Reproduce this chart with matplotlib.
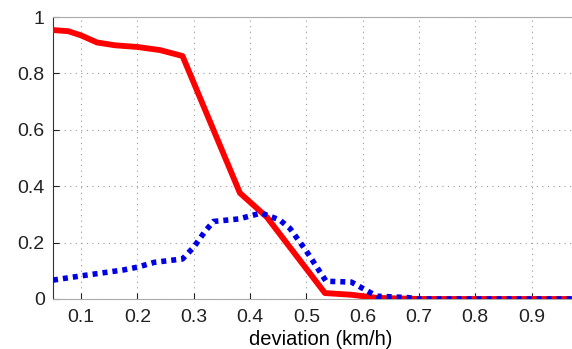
import matplotlib
matplotlib.use("Agg")
import matplotlib.pyplot as plt

red_x = [0.05, 0.077, 0.10, 0.128, 0.16, 0.20, 0.24, 0.28, 0.382, 0.43, 0.533, 0.58, 0.625, 0.70, 1.0]
red_y = [0.954, 0.950, 0.935, 0.910, 0.900, 0.894, 0.883, 0.862, 0.376, 0.29, 0.021, 0.015, 0.004, 0.0, 0.0]

blue_x = [0.05, 0.10, 0.175, 0.20, 0.23, 0.28, 0.30, 0.32, 0.335, 0.38, 0.42, 0.453, 0.471, 0.50, 0.535, 0.58, 0.625, 0.68, 0.70, 1.0]
blue_y = [0.067, 0.082, 0.103, 0.113, 0.130, 0.142, 0.184, 0.240, 0.275, 0.284, 0.305, 0.280, 0.250, 0.170, 0.063, 0.060, 0.010, 0.005, 0.0, 0.0]

xticks = [0.1, 0.2, 0.3, 0.4, 0.5, 0.6, 0.7, 0.8, 0.9]
yticks = [0, 0.2, 0.4, 0.6, 0.8, 1]

plt.rcParams['font.family'] = ['Liberation Sans', 'DejaVu Sans']

fig = plt.figure(figsize=(5.72, 3.49), dpi=100)
# the original axes runs past the right edge of the picture (cropped)
ax = fig.add_axes([0.0927, 0.1433, 0.935, 0.8077])

ax.plot(red_x, red_y, color="#ff0000", lw=4.2, solid_joinstyle="round", zorder=3)
ax.plot(blue_x, blue_y, color="#0000e6", lw=4.0, linestyle=(0, (0.9, 0.9)), zorder=4)

ax.set_xlim(0.05, 1.0)
ax.set_ylim(0, 1)
ax.set_xticks(xticks)
ax.set_xticklabels(["{:g}".format(t) for t in xticks])
ax.set_yticks(yticks)
ax.set_yticklabels(["{:g}".format(t) for t in yticks])
ax.tick_params(direction="in", length=4, labelsize=14, colors="#222222", pad=7)
ax.tick_params(axis="y", pad=6)
ax.grid(True, linestyle=(0, (1, 4)), color="#999999", lw=0.8)

for s in ["top", "bottom"]:
  ax.spines[s].set_color("#aaaaaa")
ax.spines["left"].set_color("#333333")
ax.spines["right"].set_visible(False)

ax.set_xlabel("deviation (km/h)", fontsize=14.5, labelpad=3, color="#000000")

fig.savefig("out.png", dpi=100)
